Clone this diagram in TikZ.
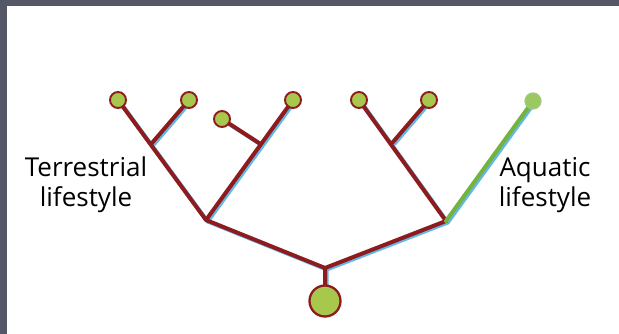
\documentclass[tikz,border=0pt]{standalone}
\usepackage{fontspec}
\setmainfont{Open Sans}
\definecolor{frame}{HTML}{545766}
\definecolor{branchred}{HTML}{8E1C1E}
\definecolor{shadowblue}{HTML}{62B8E6}
\definecolor{leafgreen}{HTML}{A7C84C}
\definecolor{aquagreen}{HTML}{74B43E}
\definecolor{aqualeaf}{HTML}{9CC862}
\begin{document}
\begin{tikzpicture}[x=1pt,y=-1pt,
  shadowline/.style={draw=shadowblue,line width=4pt,line cap=round,line join=round},
  branchline/.style={draw=branchred,line width=4pt,line cap=round,line join=round},
  aqualine/.style={draw=aquagreen,line width=4pt,line cap=round},
  leaf/.style={circle,draw=branchred,line width=1.9pt,fill=leafgreen,minimum size=16pt,inner sep=0pt},
  aqualeafnode/.style={circle,draw=aquagreen!70,line width=1.2pt,fill=aqualeaf,minimum size=16pt,inner sep=0pt},
  rootnode/.style={circle,draw=branchred,line width=2.3pt,fill=leafgreen,minimum size=31pt,inner sep=0pt},
  label/.style={font=\fontsize{26}{30}\selectfont,align=center,text=black,inner sep=0pt}]
\useasboundingbox (0,0) rectangle (619,334);
\fill[white] (0,0) rectangle (619,334);
\fill[frame] (0,0) rectangle (619,6);
\fill[frame] (0,0) rectangle (7,334);
% junctions
\coordinate (top) at (325,268);
\coordinate (L) at (206,220);
\coordinate (R) at (446,221);
\coordinate (b1) at (152,143);
\coordinate (b2) at (259,143);
\coordinate (b3) at (393,142);
\coordinate (rootc) at (325,301);
\coordinate (l1) at (118,100);
\coordinate (l2) at (189,100);
\coordinate (l3) at (222,119);
\coordinate (l4) at (293,100);
\coordinate (l5) at (359,100);
\coordinate (l6) at (429,100);
\coordinate (l7) at (533,101);
% shadows
\begin{scope}[transform canvas={shift={(1.7,1.5)}}]
\draw[shadowline] (rootc) -- (top) (L) -- (top) -- (R);
\draw[shadowline] (l1) -- (L) -- (l4) (b1) -- (l2) (b2) -- (l3);
\draw[shadowline] (l5) -- (R) -- (l7) (b3) -- (l6);
\end{scope}
% branches
\draw[branchline] (rootc) -- (top) (L) -- (top) -- (R);
\draw[branchline] (l1) -- (L) -- (l4) (b1) -- (l2) (b2) -- (l3);
\draw[branchline] (l5) -- (R) (b3) -- (l6);
\draw[aqualine] (R) -- (l7);
% circles
\node[leaf] (n1) at (l1) {};
\node[leaf] (n2) at (l2) {};
\node[leaf] (n3) at (l3) {};
\node[leaf] (n4) at (l4) {};
\node[leaf] (n5) at (l5) {};
\node[leaf] (n6) at (l6) {};
\node[aqualeafnode] (n7) at (l7) {};
\node[rootnode] (root) at (rootc) {};
% labels
\node[label,anchor=base] (terr) at (86,207) {Terrestrial\\lifestyle};
\node[label,anchor=base] (aqua) at (545,207) {Aquatic\\lifestyle};
\end{tikzpicture}
\end{document}
